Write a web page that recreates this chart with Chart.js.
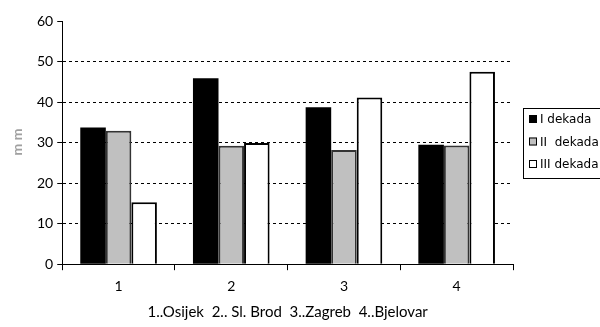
<!DOCTYPE html>
<html>
<head>
<meta charset="utf-8">
<script src="https://cdn.jsdelivr.net/npm/chart.js@4"></script>
<style>
  html, body { margin: 0; padding: 0; background: #fff; }
  #wrap { width: 600px; height: 327px; position: relative; }
</style>
</head>
<body>
<div id="wrap"><canvas id="chart" width="600" height="327"></canvas></div>
<script>
'use strict';

// Data
const categories = ['1', '2', '3', '4'];
const seriesNames = ['I dekada', 'II  dekada', 'III dekada'];
const dekada1 = [33.7, 45.9, 38.7, 29.5];
const dekada2 = [32.9, 29.2, 28.2, 29.3];
const dekada3 = [15.3, 29.9, 41.1, 47.5];
const yTicks = [0, 10, 20, 30, 40, 50, 60];
const xTitle = '1..Osijek  2.. Sl. Brod  3..Zagreb  4..Bjelovar';
const yTitle = 'm m';

const fills = ['#000000', '#c0c0c0', '#ffffff'];
const borders = ['#000000', '#333333', '#000000'];

// Boxed legend on the right, cut by the window edge as in the original
const boxLegend = {
    id: 'boxLegend',
    afterDraw: function (chart) {
        const ctx = chart.ctx;
        const x = 523, y = 108, w = 90, h = 70;
        ctx.save();
        ctx.strokeStyle = '#000';
        ctx.lineWidth = 1;
        ctx.strokeRect(x + 0.5, y + 0.5, w, h);
        ctx.font = '12px "DejaVu Sans"';
        ctx.textBaseline = 'middle';
        chart.data.datasets.forEach(function (ds, i) {
            const cy = y + 11 + i * 22.5;
            ctx.fillStyle = ds.backgroundColor;
            ctx.fillRect(x + 6, cy - 4, 8, 8);
            ctx.strokeStyle = '#000';
            ctx.strokeRect(x + 6.5, cy - 3.5, 7, 7);
            ctx.fillStyle = '#000';
            ctx.fillText(ds.label, x + 17, cy + 1);
        });
        ctx.restore();
    }
};

// Faint rotated unit label on the left
const unitLabel = {
    id: 'unitLabel',
    afterDraw: function (chart) {
        const ctx = chart.ctx;
        ctx.save();
        ctx.translate(17, 142);
        ctx.rotate(-Math.PI / 2);
        ctx.font = 'bold 14px Lato';
        ctx.fillStyle = '#a0a0a0';
        ctx.textAlign = 'center';
        ctx.textBaseline = 'middle';
        ctx.fillText(yTitle, 0, 0);
        ctx.restore();
    }
};

const ctx = document.getElementById('chart').getContext('2d');
new Chart(ctx, {
    type: 'bar',
    data: {
        labels: categories,
        datasets: [dekada1, dekada2, dekada3].map(function (values, i) {
            return {
                label: seriesNames[i],
                data: values,
                backgroundColor: fills[i],
                borderColor: borders[i],
                borderWidth: i === 0 ? 0 : 2,
                categoryPercentage: 0.68,
                barPercentage: 1
            };
        })
    },
    options: {
        responsive: false,
        animation: false,
        layout: { padding: { left: 33, right: 87, top: 21, bottom: 2 } },
        plugins: {
            legend: { display: false },
            tooltip: { enabled: false }
        },
        scales: {
            x: {
                grid: {
                    offset: true,
                    drawOnChartArea: false,
                    tickLength: 6,
                    tickColor: '#000'
                },
                border: { color: '#000', width: 1 },
                ticks: {
                    color: '#000',
                    font: { family: 'Lato', size: 14 },
                    padding: 8
                },
                title: {
                    display: true,
                    text: xTitle,
                    color: '#000',
                    font: { family: 'Lato', size: 15 },
                    padding: { top: 0, bottom: 4 }
                }
            },
            y: {
                min: 0,
                max: 60,
                afterBuildTicks: function (axis) {
                    axis.ticks = yTicks.map(function (v) { return { value: v }; });
                },
                grid: {
                    color: function (c) {
                        const v = c.tick ? c.tick.value : 0;
                        return (v === 0 || v === 60) ? 'rgba(0,0,0,0)' : '#000';
                    },
                    lineWidth: 1,
                    tickColor: '#000',
                    tickLength: 5
                },
                border: { color: '#000', width: 1, dash: [3, 3] },
                ticks: {
                    color: '#000',
                    font: { family: 'Lato', size: 14 },
                    padding: 4
                }
            }
        }
    },
    plugins: [boxLegend, unitLabel]
});
</script>
</body>
</html>
